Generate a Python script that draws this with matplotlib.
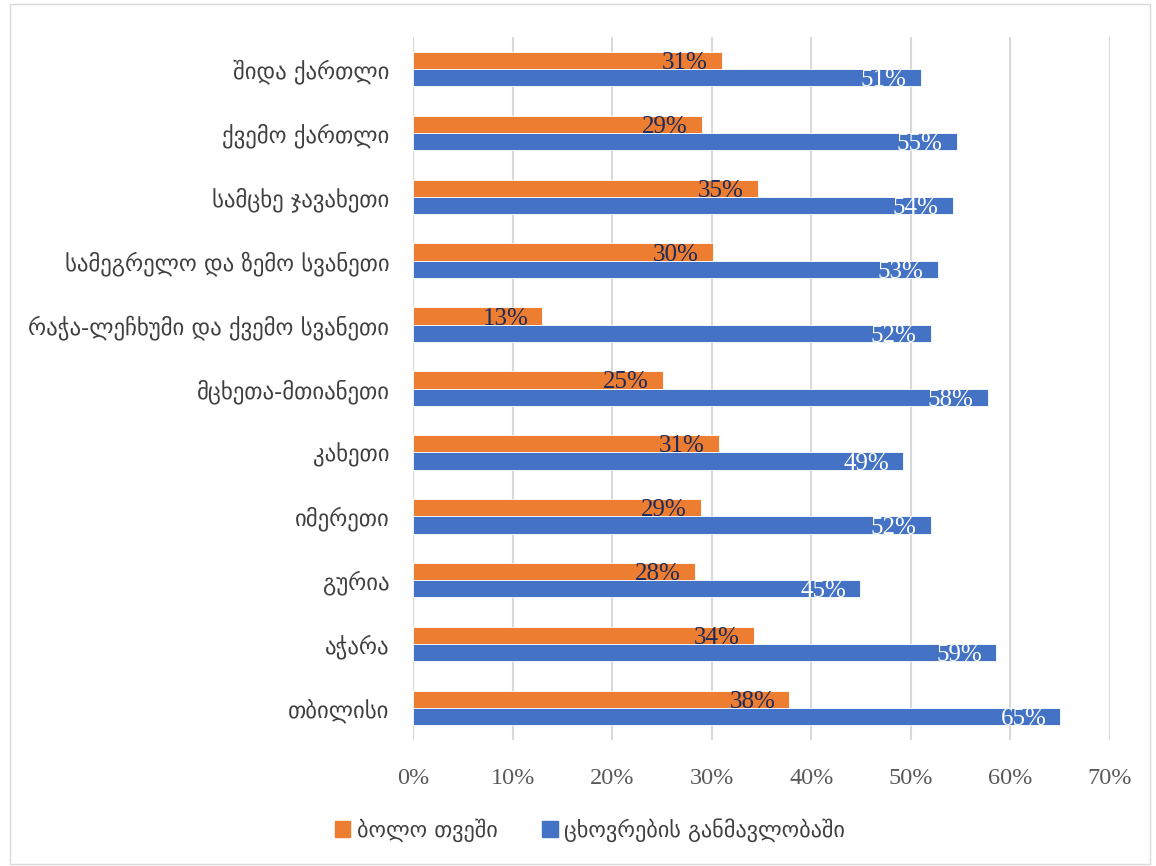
import numpy as np
import matplotlib.pyplot as plt
from matplotlib.patches import Rectangle

# რეგიონები ქვემოდან ზემოთ
regions = ['თბილისი', 'აჭარა', 'გურია', 'იმერეთი', 'კახეთი', 'მცხეთა-მთიანეთი',
           'რაჭა-ლეჩხუმი და ქვემო სვანეთი', 'სამეგრელო და ზემო სვანეთი',
           'სამცხე ჯავახეთი', 'ქვემო ქართლი', 'შიდა ქართლი']
last_month = [37.8, 34.2, 28.3, 28.9, 30.7, 25.1, 13.0, 30.1, 34.6, 29.0, 31.0]
lifetime = [65.0, 58.6, 44.9, 52.0, 49.2, 57.7, 52.0, 52.7, 54.2, 54.6, 51.0]
series_names = ['ბოლო თვეში', 'ცხოვრების განმავლობაში']
xticks = [0, 10, 20, 30, 40, 50, 60, 70]

orange = '#ED7D31'
blue = '#4472C4'
fam = ['Liberation Serif', 'DejaVu Sans']
geo = ['DejaVu Sans']

fig = plt.figure(figsize=(11.56, 8.66), dpi=100)
ax = fig.add_axes([413 / 1156, 1 - 740 / 866, (1110 - 413) / 1156, (740 - 37) / 866])

y = np.arange(len(regions))
h = 0.27
b1 = ax.barh(y + h / 2, last_month, height=h, color=orange, edgecolor='white', linewidth=0.6, zorder=3)
b2 = ax.barh(y - h / 2, lifetime, height=h, color=blue, edgecolor='white', linewidth=0.6, zorder=3)

for bars, vals, col in [(b1, last_month, '#1C2B5A'), (b2, lifetime, 'white')]:
    for r, v in zip(bars, vals):
        ax.text(v - 1.4, r.get_y() + r.get_height() / 2 - 0.04, f'{v:.0f}%', ha='right', va='center',
                color=col, fontsize=18, family=fam, zorder=4)

ax.set_xlim(0, 70)
ax.set_ylim(-0.5, len(regions) - 0.5)
ax.set_xticks(xticks)
ax.set_xticklabels([f'{t}%' for t in xticks], family=fam, fontsize=17.5, color='#595959')
ax.set_yticks(y)
ax.set_yticklabels(regions, family=geo, fontsize=16.4, color='#404040')
ax.tick_params(axis='both', length=0)
ax.tick_params(axis='x', pad=20)
ax.tick_params(axis='y', pad=17)
ax.grid(axis='x', color='#D9D9D9', linewidth=1.5, zorder=0)
for s in ax.spines.values():
    s.set_visible(False)

leg = fig.legend(handles=[Rectangle((0, 0), 1, 1, color=orange), Rectangle((0, 0), 1, 1, color=blue)],
                 labels=series_names, loc='center', bbox_to_anchor=(590 / 1156, 1 - 830 / 866),
                 ncol=2, frameon=False, prop={'family': geo, 'size': 16},
                 handlelength=0.7, handleheight=0.7, handletextpad=0.3, columnspacing=2.0)
for t in leg.get_texts():
    t.set_color('#404040')

# ჩარჩო
fig.add_artist(Rectangle((10 / 1156, 2 / 866), 1140 / 1156, 860 / 866, transform=fig.transFigure,
                         fill=False, edgecolor='#D9D9D9', linewidth=1))

fig.savefig('out.png', dpi=100)
